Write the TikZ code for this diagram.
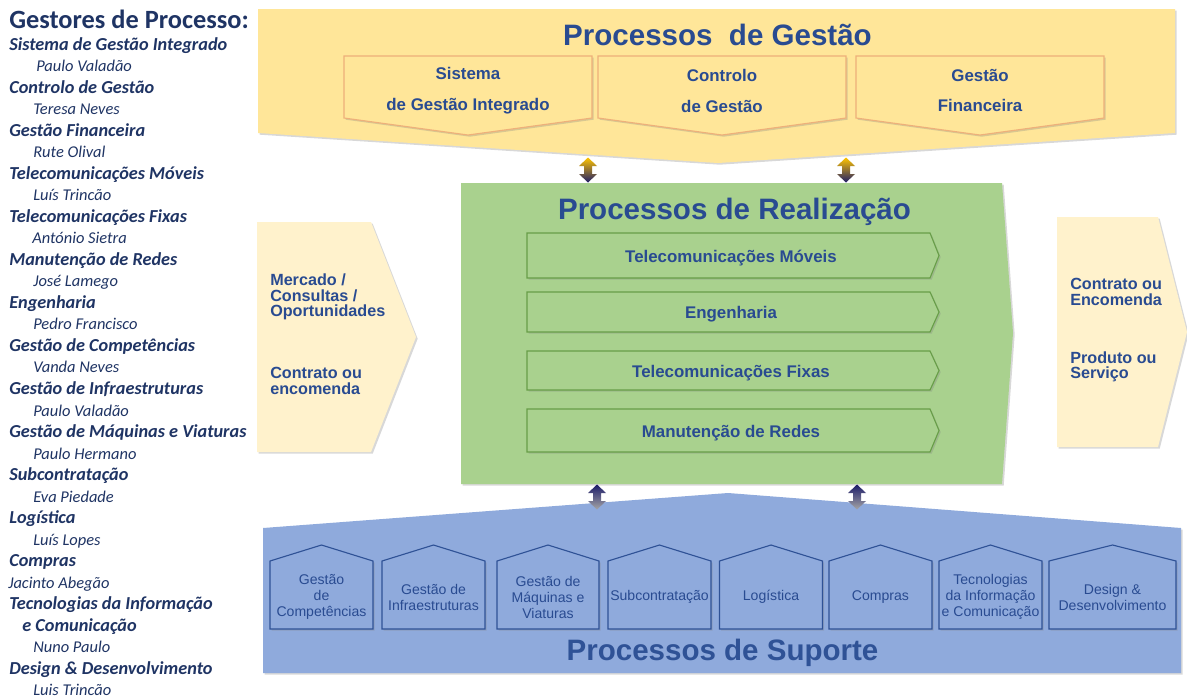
\documentclass[tikz,border=0pt]{standalone}
\usepackage{fontspec}
\setmainfont{Liberation Sans}
\newfontfamily\califont{Carlito}
\usetikzlibrary{calc, positioning, shadows}
\definecolor{gestyellow}{RGB}{255,230,153}
\definecolor{gestedge}{RGB}{238,176,122}
\definecolor{realgreen}{RGB}{169,209,142}
\definecolor{realedge}{RGB}{104,158,72}
\definecolor{inyellow}{RGB}{255,242,204}
\definecolor{supblue}{RGB}{143,170,220}
\definecolor{supedge}{RGB}{47,82,150}
\definecolor{procblue}{RGB}{41,75,145}
\definecolor{navytext}{RGB}{31,52,100}
\definecolor{arrnavy}{RGB}{28,28,105}
\definecolor{arrgold}{RGB}{255,196,0}
\newcommand{\gsec}{\fontsize{13}{15}\selectfont\bfseries}
% seta dupla sombreada entre dois processos
\newcommand{\updown}[3]{%
    \shade[shift={(#1)}, top color=#2, bottom color=#3]
        (-4,-4) -- (-9,-4) -- (0,-12.5) -- (9,-4) -- (4,-4) -- (4,4) -- (9,4) -- (0,12.5) -- (-9,4) -- (-4,4) -- cycle;}

\begin{document}
\begin{tikzpicture}[x=0.025cm, y=-0.025cm,
    shadowed/.style={drop shadow={opacity=0.3, shadow xshift=1.2pt, shadow yshift=-1.2pt}},
    proctitle/.style={font=\fontsize{21}{24}\selectfont\bfseries, text=procblue, anchor=base},
    gpent/.style={draw=gestedge, line width=0.8pt, fill=gestyellow, shadowed},
    rpent/.style={draw=realedge, line width=0.8pt, fill=realgreen, shadowed},
    spent/.style={draw=supedge, line width=0.8pt, fill=supblue, shadowed},
    gtxt/.style={align=center, inner sep=0pt, text=procblue, font=\fontsize{12}{22}\selectfont\bfseries},
    rtxt/.style={inner sep=0pt, text=procblue, font=\fontsize{12}{14}\selectfont\bfseries},
    stxt/.style={align=center, inner sep=0pt, text=procblue, font=\fontsize{10}{11.4}\selectfont},
    flowtxt/.style={anchor=west, align=left, inner sep=0pt, text=procblue, font=\fontsize{11.5}{11}\selectfont\bfseries},
    gline/.style={anchor=base west, inner sep=0pt, text=navytext, font=\califont\fontsize{11.7}{15}\selectfont\itshape}]

    \fill[white] (0,0) rectangle (1187,699);
    \useasboundingbox (0,0) rectangle (1187,699);

    % gestores de processo
    \node[anchor=base west, inner sep=0pt, text=navytext, font=\califont\fontsize{18.75}{22}\selectfont\bfseries] (gestores) at (9,28) {Gestores de Processo:};
    \foreach \ind/\txt [count=\i] in {
        9/{\gsec Sistema de Gestão Integrado}, 36/Paulo Valadão,
        9/{\gsec Controlo de Gestão}, 33/Teresa Neves,
        9/{\gsec Gestão Financeira}, 33/Rute Olival,
        9/{\gsec Telecomunicações Móveis}, 33/Luís Trincão,
        9/{\gsec Telecomunicações Fixas}, 32/António Sietra,
        9/{\gsec Manutenção de Redes}, 33/José Lamego,
        9/{\gsec Engenharia}, 33/Pedro Francisco,
        9/{\gsec Gestão de Competências}, 33/Vanda Neves,
        9/{\gsec Gestão de Infraestruturas}, 33/Paulo Valadão,
        9/{\gsec Gestão de Máquinas e Viaturas}, 33/Paulo Hermano,
        9/{\gsec Subcontratação}, 33/Eva Piedade,
        9/{\gsec Logística}, 33/Luís Lopes,
        9/{\gsec Compras}, 8/Jacinto Abegão,
        9/{\gsec Tecnologias da Informação}, 22/{\gsec e Comunicação}, 33/Nuno Paulo,
        9/{\gsec Design \& Desenvolvimento}, 33/Luis Trincão}
        \node[gline] (g\i) at (\ind, 28.5+\i*21.53) {\txt};

    % processos de gestao
    \path[shadowed, fill=gestyellow] (258,9) -- (1175,9) -- (1175,133) -- (718,163) -- (258,133) -- cycle;
    \node[proctitle] (tgestao) at (717.5,45) {Processos\ \ de Gestão};
    \foreach \x/\nm/\txt in {344/sgi/{Sistema\\de Gestão Integrado}, 598/cg/{Controlo\\de Gestão}, 856/gf/{Gestão\\Financeira}} {
        \path[gpent] (\x,56) -- (\x+248,56) -- (\x+248,118) -- (\x+124,135) -- (\x,118) -- cycle;
        \node[gtxt] (\nm) at (\x+124,90.5) {\txt};
    }

    % processos de realizacao
    \path[shadowed, fill=realgreen] (461,183) -- (1002,183) -- (1013,333) -- (1002,484) -- (461,484) -- cycle;
    \node[proctitle] (treal) at (734.5,219) {Processos de Realização};
    \foreach \yt/\yb/\nm/\txt in {233/278/tm/{Telecomunicações Móveis}, 292/332/eng/Engenharia,
            351/390/tf/{Telecomunicações Fixas}, 409/452/mr/{Manutenção de Redes}} {
        \path[rpent] (527,\yt) -- (930,\yt) -- (939,{(\yt+\yb)/2}) -- (930,\yb) -- (527,\yb) -- cycle;
        \node[rtxt] (\nm) at (731,{(\yt+\yb)/2+2.5}) {\txt};
    }

    % entradas e saidas
    \path[shadowed, fill=inyellow] (257,222) -- (371,222) -- (416,337) -- (371,452) -- (257,452) -- cycle;
    \node[flowtxt] (mercado) at (270,297) {Mercado /\\Consultas /\\Oportunidades};
    \node[flowtxt] (contrin) at (270,381) {Contrato ou\\encomenda};
    \path[shadowed, fill=inyellow] (1057,217) -- (1158,217) -- (1187,332) -- (1158,447) -- (1057,447) -- cycle;
    \node[flowtxt] (controut) at (1070,292) {Contrato ou\\Encomenda};
    \node[flowtxt] (produto) at (1070,367) {Produto ou\\Serviço};

    % processos de suporte
    \path[shadowed, fill=supblue] (263,528) -- (728,493) -- (1181,528) -- (1181,673) -- (263,673) -- cycle;
    \node[proctitle, text=supedge] (tsup) at (722.5,660) {Processos de Suporte};
    \foreach \cx/\hw/\nm/\txt in {
            321.5/51.5/comp/{Gestão\\de\\Competências}, 433.5/51.5/infra/{Gestão de\\Infraestruturas},
            548/51/maq/{Gestão de\\Máquinas e\\Viaturas}, 659.5/51.5/subc/Subcontratação,
            771/51.5/logi/Logística, 880.5/51.5/compras/Compras,
            990.5/51.5/tic/{Tecnologias\\da Informação\\e Comunicação}, 1112.5/63.5/design/{Design \&\\Desenvolvimento}} {
        \path[spent] (\cx-\hw,629) -- (\cx-\hw,561) -- (\cx,545) -- (\cx+\hw,561) -- (\cx+\hw,629) -- cycle;
        \node[stxt] (\nm) at (\cx,597) {\txt};
    }

    % ligacoes entre processos
    \coordinate (ga1) at (588,170);
    \coordinate (ga2) at (846,170);
    \coordinate (sa1) at (597,497);
    \coordinate (sa2) at (857,497);
    \updown{ga1}{arrgold}{arrnavy}
    \updown{ga2}{arrgold}{arrnavy}
    \updown{sa1}{arrnavy}{gray!70}
    \updown{sa2}{arrnavy}{gray!70}
\end{tikzpicture}
\end{document}
